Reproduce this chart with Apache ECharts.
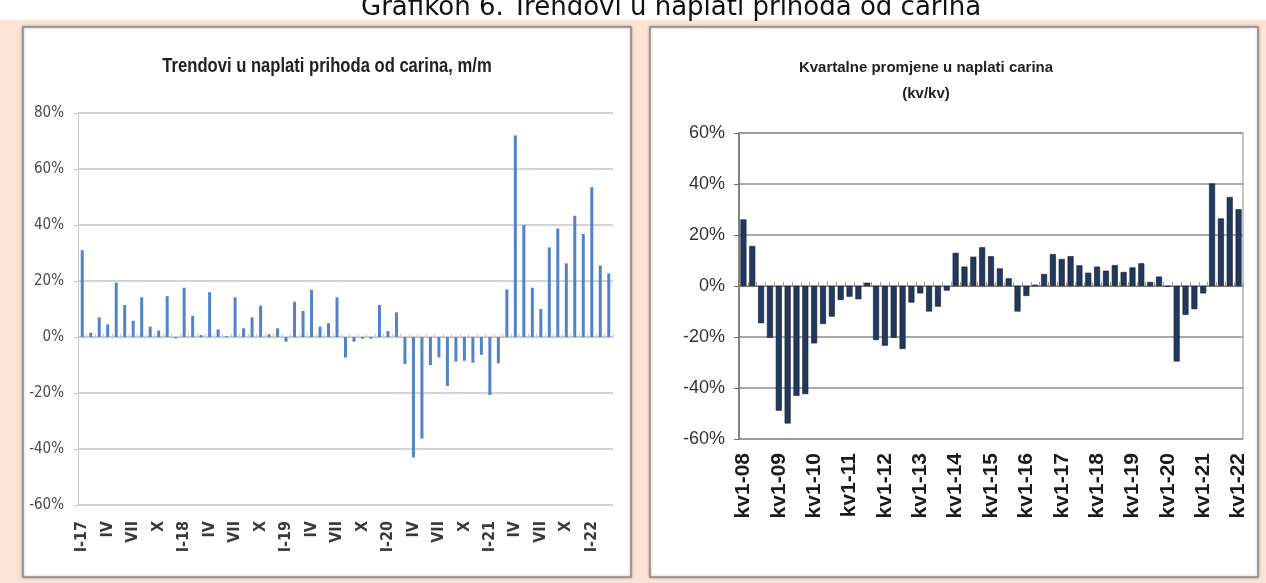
<!DOCTYPE html>
<html>
<head>
<meta charset="utf-8">
<title>Trendovi u naplati prihoda od carina</title>
<script src="https://cdn.jsdelivr.net/npm/echarts@6/dist/echarts.min.js"></script>
<style>
    html, body { margin: 0; padding: 0; background: #fff; }
    #main { width: 1266px; height: 583px; }
</style>
</head>
<body>
<div id="main"></div>
<script>
    // m/m promjene, I-17 .. III-22 (u %)
    var monthYears = ['17', '18', '19', '20', '21', '22'];
    var romanMonths = ['I', 'II', 'III', 'IV', 'V', 'VI', 'VII', 'VIII', 'IX', 'X', 'XI', 'XII'];
    var monthlyChange = [
        31, 1.5, 7, 4.5, 19.4, 11.4, 5.8, 14.2, 3.7, 2.3, 14.6, -0.5,
        17.6, 7.6, 0.7, 16, 2.7, 0.3, 14.2, 3.1, 7, 11.2, 1, 3.1,
        -1.7, 12.6, 9.3, 16.8, 3.7, 4.9, 14.2, -7.3, -1.7, -0.6, -0.6, 11.4,
        2.1, 8.8, -9.6, -43, -36.3, -10, -7.3, -17.5, -8.8, -8.5, -9.2, -6.4,
        -20.7, -9.4, 17, 72, 40, 17.6, 10, 32, 38.8, 26.3, 43.3, 36.8,
        53.5, 25.5, 22.7
    ];

    // kv/kv promjene, kv1-08 .. kv1-22 (u %)
    var quarterYears = ['08', '09', '10', '11', '12', '13', '14', '15', '16', '17', '18', '19', '20', '21', '22'];
    var quarterlyChange = [
        26.1, 15.7, -14.6, -20.3, -48.9, -53.9, -43.1, -42.4, -22.5, -14.9, -12, -5.5,
        -4.2, -5.2, 1.3, -21.2, -23.4, -20.3, -24.7, -6.5, -2.9, -10, -8.1, -1.8,
        13, 7.6, 11.5, 15.2, 11.7, 6.9, 3, -10, -3.9, 0.5, 4.7, 12.5,
        10.6, 11.7, 8.1, 5.2, 7.6, 6, 8.2, 5.5, 7.3, 8.9, 1.6, 3.7,
        -0.3, -29.6, -11.3, -9.1, -2.9, 40.2, 26.5, 34.9, 30.1
    ];

    var months = [];
    monthYears.forEach(function (y) {
        romanMonths.forEach(function (m) { months.push(m + '-' + y); });
    });
    months = months.slice(0, monthlyChange.length);

    var quarters = [];
    quarterYears.forEach(function (y) {
        for (var q = 1; q <= 4; q++) quarters.push('kv' + q + '-' + y);
    });
    quarters = quarters.slice(0, quarterlyChange.length);

    var narrow = "'DejaVu Sans Condensed', 'Liberation Sans', sans-serif";
    var arial = "'Liberation Sans', Arial, sans-serif";

    var myChart = echarts.init(document.getElementById('main'));
    var option = {
        backgroundColor: '#ffffff',
        animation: false,
        graphic: {
            elements: [
                { type: 'rect', z: -10, shape: { x: 0, y: 20, width: 1266, height: 563 }, style: { fill: '#fbe4d5' } },
                { type: 'rect', z: -9, shape: { x: 23, y: 27, width: 608, height: 550 },
                  style: { fill: '#ffffff', stroke: '#8a8a8a', lineWidth: 1.5, shadowBlur: 3, shadowColor: 'rgba(0,0,0,0.3)' } },
                { type: 'rect', z: -9, shape: { x: 650, y: 27, width: 608, height: 550 },
                  style: { fill: '#ffffff', stroke: '#8a8a8a', lineWidth: 1.5, shadowBlur: 3, shadowColor: 'rgba(0,0,0,0.3)' } },
                // naslov lijevog grafikona, uski bold font
                { type: 'text', z: 5, x: 327, y: 66, scaleX: 0.83,
                  style: { text: 'Trendovi u naplati prihoda od carina, m/m', fontFamily: arial, fontSize: 20,
                           fontWeight: 'bold', fill: '#222', align: 'center', verticalAlign: 'middle' } }
            ]
        },
        title: [
            {
                text: 'Grafikon 6. Trendovi u naplati prihoda od carina',
                left: 356,
                top: -10,
                textStyle: { fontFamily: "'DejaVu Sans', Verdana, sans-serif", fontSize: 26, fontWeight: 'normal', color: '#111' }
            },
            {
                text: 'Kvartalne promjene u naplati carina\n(kv/kv)',
                left: 921,
                textAlign: 'center',
                top: 50,
                textStyle: { fontFamily: arial, fontSize: 15, fontWeight: 'bold', color: '#222', lineHeight: 26 }
            }
        ],
        grid: [
            { left: 78, right: 653, top: 113, bottom: 78 },
            { left: 739, right: 23, top: 133, bottom: 144, show: true, borderColor: '#8c8c8c', borderWidth: 1, backgroundColor: 'transparent' }
        ],
        xAxis: [
            {
                type: 'category', gridIndex: 0, data: months, position: 'bottom',
                axisLine: { show: false, onZero: false }, axisTick: { show: false },
                axisLabel: {
                    interval: 2, rotate: 90, margin: 16,
                    fontFamily: narrow, fontSize: 16, fontWeight: 'bold', color: '#3a3a3a',
                    formatter: function (v) { return v.indexOf('I-') === 0 ? v : v.split('-')[0]; }
                }
            },
            {
                type: 'category', gridIndex: 0, data: months,
                axisLine: { show: true, onZero: true, lineStyle: { color: '#c4c4c4', width: 1 } },
                axisTick: { show: true, length: 3, interval: 0, lineStyle: { color: '#c4c4c4' } },
                axisLabel: { show: false }
            },
            {
                type: 'category', gridIndex: 1, data: quarters, position: 'bottom',
                axisLine: { show: false, onZero: false }, axisTick: { show: false },
                axisLabel: {
                    interval: 3, rotate: 90, margin: 14,
                    fontFamily: arial, fontSize: 21, fontWeight: 'bold', color: '#1a1a1a'
                }
            },
            {
                type: 'category', gridIndex: 1, data: quarters,
                axisLine: { show: true, onZero: true, lineStyle: { color: '#7a7a7a', width: 1 } },
                axisTick: { show: true, length: 4, interval: 0, lineStyle: { color: '#9a9a9a' } },
                axisLabel: { show: false }
            }
        ],
        yAxis: [
            {
                type: 'value', gridIndex: 0, min: -60, max: 80, interval: 20,
                axisLine: { show: true, lineStyle: { color: '#c4c4c4' } },
                axisTick: { show: true, length: 4, lineStyle: { color: '#c4c4c4' } },
                splitLine: { show: true, lineStyle: { color: '#c4c4c4', width: 1.5 } },
                axisLabel: { formatter: '{value}%', fontFamily: narrow, fontSize: 15, color: '#4a4a4a', margin: 14 }
            },
            {
                type: 'value', gridIndex: 1, min: -60, max: 60, interval: 20,
                axisLine: { show: true, lineStyle: { color: '#6e6e6e', width: 1.5 } },
                axisTick: { show: true, length: 5, lineStyle: { color: '#6e6e6e' } },
                splitLine: { show: true, lineStyle: { color: '#8c8c8c', width: 1.5 } },
                axisLabel: { formatter: '{value}%', fontFamily: arial, fontSize: 18, color: '#333', margin: 14 }
            }
        ],
        series: [
            {
                name: 'm/m',
                type: 'bar',
                xAxisIndex: 0,
                yAxisIndex: 0,
                barWidth: 3,
                data: monthlyChange,
                itemStyle: { color: '#5283c8' }
            },
            {
                name: 'kv/kv',
                type: 'bar',
                xAxisIndex: 2,
                yAxisIndex: 1,
                barWidth: 6,
                data: quarterlyChange,
                itemStyle: { color: '#22385c', borderColor: '#121c2c', borderWidth: 0.6 }
            }
        ]
    };
    myChart.setOption(option);

    window.addEventListener('resize', function () {
        if (myChart != null && myChart != undefined) {
            myChart.resize();
        }
    });
</script>
</body>
</html>
